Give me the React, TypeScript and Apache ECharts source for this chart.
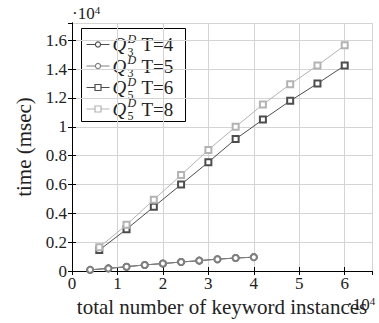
import React, { useEffect, useRef } from "react";
import * as echarts from "echarts";

// Keyword instances per run (x values) for the two query families
const instancesQ3 = [4000, 8000, 12000, 16000, 20000, 24000, 28000, 32000, 36000, 40000];
const instancesQ5 = [6000, 12000, 18000, 24000, 30000, 36000, 42000, 48000, 54000, 60000];

// Running time in msec
const timeQ3T4 = [80, 180, 300, 420, 520, 620, 720, 820, 900, 960];
const timeQ3T5 = [80, 180, 300, 420, 520, 620, 720, 820, 900, 960];
const timeQ5T6 = [1450, 2900, 4450, 6000, 7550, 9150, 10500, 11800, 13000, 14250];
const timeQ5T8 = [1650, 3200, 4950, 6650, 8400, 10000, 11550, 12950, 14250, 15650];

// Legend entries: query subscript, threshold label
const legendSubs = ["3", "3", "5", "5"];
const legendLabels = ["T=4", "T=5", "T=6", "T=8"];
const seriesColors = ["#4d4d4d", "#808080", "#4d4d4d", "#b3b3b3"];
const seriesSymbols = ["circle", "circle", "rect", "rect"];

const SERIF = "serif";

const pairs = (xs: number[], ys: number[]) => xs.map((x, i) => [x, ys[i]]);

const fmt = (v: number) => {
  const s = (v / 10000).toFixed(1);
  return s.endsWith(".0") ? s.slice(0, -2) : s;
};

export default function App() {
  const ref = useRef<HTMLDivElement>(null);

  useEffect(() => {
    if (!ref.current) return;
    const chart = echarts.init(ref.current, undefined, { renderer: "svg" });

    const seriesData = [
      pairs(instancesQ3, timeQ3T4),
      pairs(instancesQ3, timeQ3T5),
      pairs(instancesQ5, timeQ5T6),
      pairs(instancesQ5, timeQ5T8),
    ];

    const series = seriesData.map((data, i) => ({
      type: "line",
      name: legendLabels[i],
      data,
      symbol: seriesSymbols[i] === "circle" ? "emptyCircle" : "emptyRect",
      symbolSize: 6,
      lineStyle: { color: seriesColors[i], width: 1 },
      itemStyle: { color: seriesColors[i], borderColor: seriesColors[i], borderWidth: 1.2 },
      xAxisIndex: 0,
      yAxisIndex: 0,
      z: 3 + i,
    }));

    const txt = (text: string, x: number, y: number, size: number, italic = false) => ({
      type: "text",
      x,
      y,
      style: {
        text,
        font: `${italic ? "italic " : ""}${size}px serif`,
        fill: "#222",
        verticalAlign: "middle",
      },
    });

    // Hand-built legend box with stacked sub/superscripts
    const legendChildren: any[] = [
      {
        type: "rect",
        shape: { x: 0, y: 0, width: 104, height: 93 },
        style: { fill: "#fff", stroke: "#000", lineWidth: 1 },
      },
    ];
    legendLabels.forEach((lab, i) => {
      const y = 16 + i * 21.5;
      const c = seriesColors[i];
      legendChildren.push({
        type: "line",
        shape: { x1: 5, y1: y, x2: 28, y2: y },
        style: { stroke: c, lineWidth: 1 },
      });
      if (seriesSymbols[i] === "circle") {
        legendChildren.push({
          type: "circle",
          shape: { cx: 16.5, cy: y, r: 2.6 },
          style: { fill: "#fff", stroke: c, lineWidth: 1.2 },
        });
      } else {
        legendChildren.push({
          type: "rect",
          shape: { x: 13.5, y: y - 3, width: 6, height: 6 },
          style: { fill: "#fff", stroke: c, lineWidth: 1.2 },
        });
      }
      legendChildren.push(
        txt("Q", 31, y, 19, true),
        txt("D", 46, y - 6, 12, true),
        txt(legendSubs[i], 46, y + 7, 12),
        txt(lab, 60, y, 19)
      );
    });

    const tickFont = { fontFamily: SERIF, fontSize: 17, color: "#222" };

    const powerLabel = (left: number, top: number) => ({
      type: "text",
      left,
      top,
      style: {
        text: "·10{s|4}",
        fontFamily: SERIF,
        fontSize: 17,
        fill: "#222",
        rich: { s: { fontSize: 11, fontFamily: SERIF, verticalAlign: "top", padding: [0, 0, 8, 0] } },
      },
    });

    chart.setOption({
      animation: false,
      backgroundColor: "#fff",
      textStyle: { fontFamily: SERIF },
      grid: { left: 72, right: 7, top: 23, bottom: 52 },
      xAxis: [
        {
          type: "value",
          min: 0,
          max: 66000,
          interval: 10000,
          position: "bottom",
          axisLine: { show: true, lineStyle: { color: "#000", width: 1 } },
          axisTick: { show: true, inside: true, length: 4, lineStyle: { color: "#000" } },
          splitLine: { show: true, lineStyle: { color: "#d4d4d4", width: 1 } },
          axisLabel: { ...tickFont, margin: 4, formatter: fmt, showMaxLabel: false },
          name: "total number of keyword instances",
          nameLocation: "middle",
          nameGap: 24,
          nameTextStyle: { fontFamily: SERIF, fontSize: 21, color: "#222" },
        },
        {
          type: "value",
          min: 0,
          max: 66000,
          interval: 10000,
          position: "top",
          axisLine: { show: true, lineStyle: { color: "#000", width: 1 } },
          axisTick: { show: true, inside: true, length: 4, lineStyle: { color: "#000" } },
          splitLine: { show: false },
          axisLabel: { show: false },
        },
      ],
      yAxis: [
        {
          type: "value",
          min: 0,
          max: 17200,
          interval: 2000,
          position: "left",
          axisLine: { show: true, lineStyle: { color: "#000", width: 1 } },
          axisTick: { show: true, inside: true, length: 4, lineStyle: { color: "#000" } },
          splitLine: { show: true, lineStyle: { color: "#d4d4d4", width: 1 } },
          axisLabel: { ...tickFont, margin: 5, formatter: fmt, showMaxLabel: false },
          name: "time (msec)",
          nameLocation: "middle",
          nameGap: 28,
          nameTextStyle: { fontFamily: SERIF, fontSize: 21, color: "#222" },
        },
        {
          type: "value",
          min: 0,
          max: 17200,
          interval: 2000,
          position: "right",
          axisLine: { show: true, lineStyle: { color: "#000", width: 1 } },
          axisTick: { show: true, inside: true, length: 4, lineStyle: { color: "#000" } },
          splitLine: { show: false },
          axisLabel: { show: false },
        },
      ],
      series,
      graphic: [
        {
          type: "group",
          left: 81,
          top: 28,
          z: 100,
          children: legendChildren,
        },
        powerLabel(72, 4),
        powerLabel(347, 295),
      ],
    });

    return () => chart.dispose();
  }, []);

  return (
    <div
      ref={ref}
      style={{ position: "fixed", left: 0, top: 0, width: 379, height: 323 }}
    />
  );
}
